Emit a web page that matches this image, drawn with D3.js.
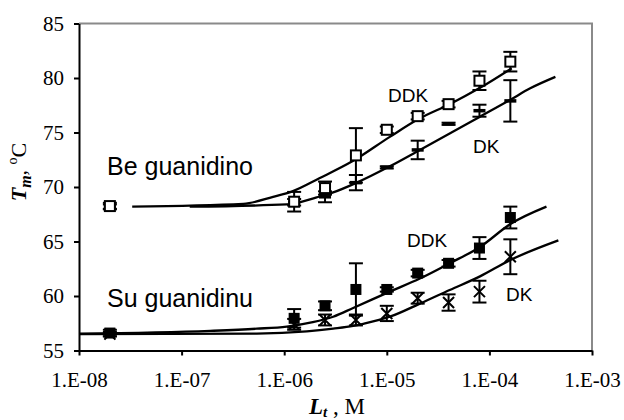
<!DOCTYPE html>
<html>
<head>
<meta charset="utf-8">
<script src="https://cdn.jsdelivr.net/npm/d3@7"></script>
<style>
  html, body { margin: 0; padding: 0; background: #fff; }
  svg { display: block; }
  .tick text { font-family: "Liberation Serif", "Times New Roman", serif; font-size: 21px; fill: #000; }
  .lbl { font-family: "Liberation Sans", Arial, sans-serif; fill: #000; }
</style>
</head>
<body>
<svg id="chart" width="624" height="420"></svg>
<script>
// Ligand concentrations (M) at which Tm was measured
const conc = [2e-8, 1.25e-6, 2.5e-6, 5e-6, 1e-5, 2e-5, 4e-5, 8e-5, 1.6e-4];

// "Be guanidino" series
const beDDK    = [68.25, 68.65, 69.9, 72.9, 75.25, 76.5, 77.6, 79.75, 81.5];
const beDDKErr = [0.3, 0.9, 0.6, 2.5, 0.3, 0.3, 0.3, 0.85, 0.9];
const beDK     = [68.2, 68.6, 69.1, 70.4, 71.8, 73.4, 75.8, 77.0, 77.9];
const beDKErr  = [0.2, 0.3, 0.5, 0.7, 0.1, 0.85, 0.1, 0.55, 1.9];

// "Su guanidinu" series
const suDDK    = [56.6, 57.95, 59.1, 60.6, 60.6, 62.1, 63.0, 64.4, 67.2];
const suDDKErr = [0.3, 0.85, 0.4, 2.4, 0.2, 0.3, 0.3, 1.0, 1.0];
const suDK     = [56.5, 57.4, 57.8, 57.8, 58.4, 59.8, 59.4, 60.4, 63.6];
const suDKErr  = [0.2, 0.5, 0.5, 0.5, 0.7, 0.5, 0.75, 1.0, 1.6];

// Model curves: [concentration, Tm]
const beDDKFit = [[3.3e-8, 68.2], [4.0e-7, 68.45], [7.8e-7, 69.1], [1.2e-6, 69.6], [2.2e-6, 70.8],
  [4.7e-6, 72.4], [1.07e-5, 74.6], [2.1e-5, 76.3], [4.1e-5, 77.6], [8.1e-5, 79.1], [1.65e-4, 80.9]];
const beDKFit = [[1.2e-7, 68.2], [1.06e-6, 68.4], [2.07e-6, 69.05], [3.0e-6, 69.5], [5.1e-6, 70.4],
  [1.07e-5, 71.9], [2.1e-5, 73.4], [4.1e-5, 74.9], [8.1e-5, 76.45], [1.6e-4, 78.0], [2.5e-4, 79.05], [4.4e-4, 80.1]];
const suDDKFit = [[1e-8, 56.55], [1.9e-7, 56.8], [5.4e-7, 57.0], [1.06e-6, 57.2], [1.9e-6, 57.6],
  [3.0e-6, 58.1], [4.7e-6, 58.9], [1.07e-5, 60.4], [2.1e-5, 61.6], [4.1e-5, 63.0], [8.1e-5, 64.5],
  [1.6e-4, 66.6], [3.6e-4, 68.2]];
const suDKFit = [[1e-8, 56.5], [5.4e-7, 56.55], [1.66e-6, 56.75], [3.0e-6, 57.0], [4.7e-6, 57.25],
  [5.9e-6, 57.45], [1.07e-5, 58.1], [2.1e-5, 59.3], [4.1e-5, 60.55], [8.1e-5, 61.8], [1.6e-4, 63.3], [4.7e-4, 65.1]];

// Axes ticks
const xTicks = [1e-8, 1e-7, 1e-6, 1e-5, 1e-4, 1e-3];
const xTickLabels = ["1.E-08", "1.E-07", "1.E-06", "1.E-05", "1.E-04", "1.E-03"];
const yTicks = [55, 60, 65, 70, 75, 80, 85];

const svg = d3.select("#chart");
const plotL = 79, plotR = 592, plotT = 23.5, plotB = 350.5;

const x = d3.scaleLog().domain([1e-8, 1e-3]).range([plotL, plotR]);
const y = d3.scaleLinear().domain([55, 85]).range([plotB, plotT]);

// Frame: grey top and right edges
svg.append("path")
  .attr("d", `M${plotL},${plotT}H${plotR}V${plotB}`)
  .attr("fill", "none").attr("stroke", "#8a8a8a").attr("stroke-width", 2);

// Axes
const xAxis = d3.axisBottom(x).tickValues(xTicks)
  .tickFormat((d, i) => xTickLabels[i]).tickSizeInner(5).tickSizeOuter(0).tickPadding(16.5);
const yAxis = d3.axisLeft(y).tickValues(yTicks)
  .tickFormat(d => d).tickSizeInner(5).tickSizeOuter(0).tickPadding(10);

const gx = svg.append("g").attr("transform", `translate(0,${plotB})`).call(xAxis);
const gy = svg.append("g").attr("transform", `translate(${plotL},0)`).call(yAxis);
[gx, gy].forEach(g => {
  g.select(".domain").attr("stroke", "#000").attr("stroke-width", 2);
  g.selectAll(".tick line").attr("stroke", "#000").attr("stroke-width", 2);
  g.attr("font-family", null).attr("font-size", null);
});

// Fit curves
const line = d3.line().curve(d3.curveMonotoneX).x(d => x(d[0])).y(d => y(d[1]));
[beDDKFit, beDKFit, suDDKFit, suDKFit].forEach(c => {
  svg.append("path").datum(c).attr("d", line)
    .attr("fill", "none").attr("stroke", "#000").attr("stroke-width", 2.3)
    .attr("stroke-linejoin", "round");
});

// Error bars
function errorBars(vals, errs) {
  const g = svg.append("g").attr("stroke", "#000").attr("stroke-width", 2);
  vals.forEach((v, i) => {
    const cx = x(conc[i]), y0 = y(v + errs[i]), y1 = y(v - errs[i]);
    g.append("line").attr("x1", cx).attr("x2", cx).attr("y1", y0).attr("y2", y1);
    g.append("line").attr("x1", cx - 7).attr("x2", cx + 7).attr("y1", y0).attr("y2", y0);
    g.append("line").attr("x1", cx - 7).attr("x2", cx + 7).attr("y1", y1).attr("y2", y1);
  });
}
errorBars(beDK, beDKErr);
errorBars(beDDK, beDDKErr);
errorBars(suDK, suDKErr);
errorBars(suDDK, suDDKErr);

// Markers
const s = 10;
svg.append("g").selectAll("rect").data(beDK).join("rect")
  .attr("x", (d, i) => x(conc[i]) - 6).attr("y", d => y(d) - 1.75)
  .attr("width", 12).attr("height", 3.5).attr("fill", "#000");
svg.append("g").selectAll("rect").data(beDDK).join("rect")
  .attr("x", (d, i) => x(conc[i]) - s / 2).attr("y", d => y(d) - s / 2)
  .attr("width", s).attr("height", s).attr("fill", "#fff")
  .attr("stroke", "#000").attr("stroke-width", 2);
svg.append("g").selectAll("path").data(suDK).join("path")
  .attr("d", (d, i) => {
    const cx = x(conc[i]), cy = y(d), h = 5.5;
    return `M${cx - h},${cy - h}L${cx + h},${cy + h}M${cx - h},${cy + h}L${cx + h},${cy - h}`;
  })
  .attr("stroke", "#000").attr("stroke-width", 2).attr("fill", "none");
svg.append("g").selectAll("rect").data(suDDK).join("rect")
  .attr("x", (d, i) => x(conc[i]) - 5.5).attr("y", d => y(d) - 5.5)
  .attr("width", 11).attr("height", 11).attr("fill", "#000");

// Labels inside the plot
const labels = [
  { t: "Be guanidino", x: 107, y: 175, size: 25 },
  { t: "Su guanidinu", x: 107, y: 306.5, size: 25 },
  { t: "DDK", x: 388, y: 102, size: 19 },
  { t: "DK", x: 473, y: 153, size: 19 },
  { t: "DDK", x: 407, y: 246.5, size: 19 },
  { t: "DK", x: 506, y: 300.5, size: 19 }
];
svg.append("g").selectAll("text").data(labels).join("text")
  .attr("class", "lbl").attr("x", d => d.x).attr("y", d => d.y)
  .attr("font-size", d => d.size).text(d => d.t);

// Axis titles
const serif = '"Liberation Serif", "Times New Roman", serif';
const yt = svg.append("text")
  .attr("transform", "translate(26,172) rotate(-90)")
  .attr("text-anchor", "middle").attr("font-family", serif).attr("font-size", 22);
yt.append("tspan").attr("font-weight", "bold").attr("font-style", "italic").text("T");
yt.append("tspan").attr("font-weight", "bold").attr("font-style", "italic").attr("font-size", 16).attr("dy", 5).text("m");
yt.append("tspan").attr("dy", -5).text(", ");
yt.append("tspan").attr("font-size", 14).attr("dy", -9).text("o");
yt.append("tspan").attr("dy", 9).text("C");

const xt = svg.append("text")
  .attr("x", 337).attr("y", 414).attr("text-anchor", "middle")
  .attr("font-family", serif).attr("font-size", 23);
xt.append("tspan").attr("font-weight", "bold").attr("font-style", "italic").text("L");
xt.append("tspan").attr("font-weight", "bold").attr("font-style", "italic").attr("font-size", 15).attr("dy", 2.5).text("t");
xt.append("tspan").attr("dy", -2.5).text(" , M");
</script>
</body>
</html>
